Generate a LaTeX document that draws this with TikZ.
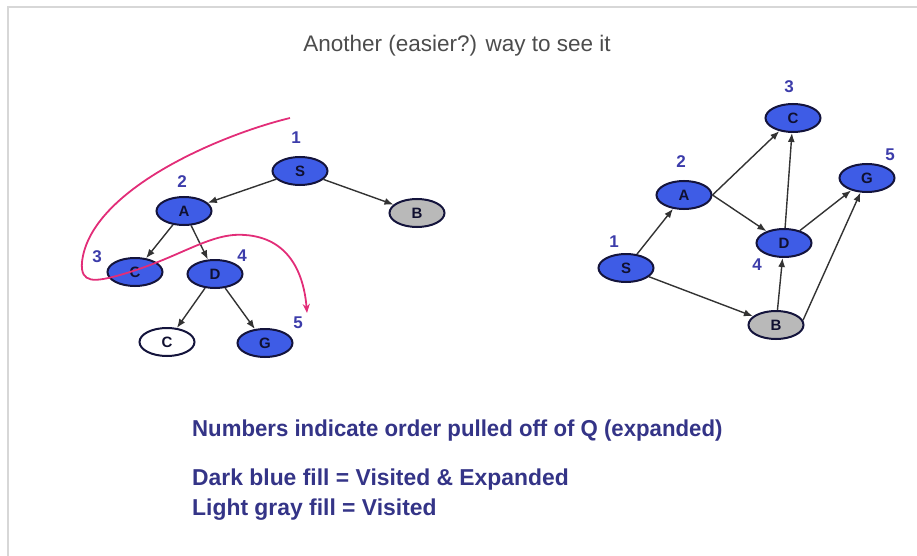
\documentclass[tikz,border=0pt]{standalone}
\usepackage{fontspec}
\setmainfont{Liberation Sans}
\usepackage{graphicx}
\usetikzlibrary{arrows.meta,shapes.geometric}
\definecolor{nodeblue}{RGB}{62,92,230}
\definecolor{navy}{RGB}{20,20,60}
\definecolor{numblue}{RGB}{60,60,170}
\definecolor{txtblue}{RGB}{52,52,135}
\definecolor{lgray}{RGB}{185,185,185}
\definecolor{magline}{RGB}{226,45,120}
\definecolor{frame}{RGB}{215,215,215}
\begin{document}
\begin{tikzpicture}[x=1pt,y=-1pt,
 vnode/.style={ellipse, draw=navy, line width=2pt, minimum width=55pt, minimum height=28pt, inner sep=0pt, text=navy!80!black, font=\bfseries\fontsize{15}{15}\selectfont},
 expanded/.style={vnode, fill=nodeblue},
 visited/.style={vnode, fill=lgray},
 fresh/.style={vnode, fill=white},
 edge/.style={draw=black!80, line width=1.4pt, -{Latex[length=9pt,width=7pt]}},
 num/.style={text=numblue, inner sep=0pt, font=\bfseries\fontsize{17}{17}\selectfont},
 legend/.style={anchor=base west, inner sep=0pt, text=txtblue, font=\bfseries\fontsize{23}{23}\selectfont}
]
\path[use as bounding box] (0,0) rectangle (917,556);
\draw[frame, line width=1.5pt] (8,556) -- (8,7) -- (917,7);

\node[inner sep=0pt, text=black!70, font=\fontsize{22.5}{22.5}\selectfont] (title) at (457,46) {Another (easier?) way to see it};

% left tree
\node[expanded] (lS) at (300,171) {S};
\node[visited]  (lB) at (417,213) {B};
\node[expanded] (lA) at (184,211) {A};
\node[expanded] (lC) at (135,272) {C};
\node[expanded] (lD) at (215,274) {D};
\node[fresh]    (lC2) at (167,342) {C};
\node[expanded] (lG) at (265,343) {G};
\node[num] (n1) at (296,138) {1};
\node[num] (n2) at (182,182) {2};
\node[num] (n3) at (97,257) {3};
\node[num] (n4) at (242,256) {4};
\node[num] (n5) at (298,323) {5};
\draw[edge] (lS) -- (lA);
\draw[edge] (lS) -- (lB);
\draw[edge] (lA) -- (lC);
\draw[edge] (lA) -- (lD);
\draw[edge] (lD) -- (lC2);
\draw[edge] (lD) -- (lG);

\coordinate (ms) at (290,118);
\coordinate (me) at (307,313);
\draw[magline, line width=1.8pt, -{Stealth[length=9pt,width=7pt]}] (ms) .. controls (220,135) and (90,190) .. (82,262) .. controls (80,284) and (95,282) .. (120,275) .. controls (180,258) and (210,232) .. (245,235) .. controls (290,238) and (304,275) .. (me);

% right graph
\node[expanded] (rS) at (626,268) {S};
\node[expanded] (rA) at (684,195) {A};
\node[expanded] (rC) at (793,118) {C};
\node[expanded] (rD) at (784,243) {D};
\node[expanded] (rG) at (867,178) {G};
\node[visited]  (rB) at (776,325) {B};
\node[num] (m1) at (614,242) {1};
\node[num] (m2) at (681,162) {2};
\node[num] (m3) at (789,87) {3};
\node[num] (m4) at (757,265) {4};
\node[num] (m5) at (890,155) {5};
\draw[edge] (rS) -- (rA);
\draw[edge] (rS) -- (rB);
\draw[edge] (rA.east) -- (rC);
\draw[edge] (rA.east) -- (rD);
\draw[edge] (rD) -- (rC);
\draw[edge] (rD) -- (rG);
\draw[edge] (rB) -- (rD);
\draw[edge] (rB.10) -- (rG);

% legend
\node[legend] (t1) at (192,436) {\scalebox{0.965}[1]{Numbers indicate order pulled off of Q (expanded)}};
\node[legend] (t2) at (192,485) {\scalebox{0.995}[1]{Dark blue fill = Visited \& Expanded}};
\node[legend] (t3) at (192,515) {\scalebox{0.995}[1]{Light gray fill = Visited}};
\end{tikzpicture}
\end{document}
